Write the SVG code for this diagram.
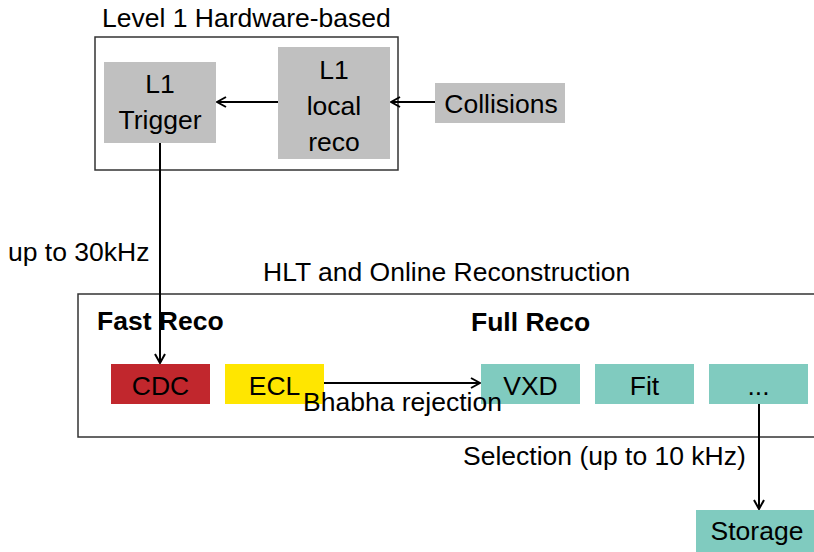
<svg xmlns="http://www.w3.org/2000/svg" width="814" height="552" viewBox="0 0 814 552">
<defs>
<style>
text{font-family:"Liberation Sans",Arial,sans-serif;font-size:26.5px;fill:#000}
.b{font-weight:bold}
.m{text-anchor:middle}
.frame{fill:none;stroke:#333;stroke-width:1.5}
.gray{fill:#c0c0c0}
.teal{fill:#80cbbf}
.edge{fill:none;stroke:#000;stroke-width:2}
</style>
<marker id="arr" viewBox="0 0 12 12" refX="11" refY="6" markerWidth="12" markerHeight="12" markerUnits="userSpaceOnUse" orient="auto">
<path d="M2,1 L11,6 L2,11" fill="none" stroke="#000" stroke-width="2"/>
</marker>
</defs>
<rect width="814" height="552" fill="#fff"/>
<g id="level1">
<rect class="frame" x="95" y="37" width="303" height="133"/>
<text x="102" y="27">Level 1 Hardware-based</text>
</g>
<g id="hlt">
<rect class="frame" x="78" y="294" width="740" height="143"/>
<text x="263" y="281">HLT and Online Reconstruction</text>
<text class="b" x="97" y="330">Fast Reco</text>
<text class="b" x="471" y="331">Full Reco</text>
</g>
<g id="l1trigger">
<rect class="gray" x="104" y="62" width="112" height="81"/>
<text class="m" x="160" y="93">L1</text>
<text class="m" x="160" y="129">Trigger</text>
</g>
<g id="l1local">
<rect class="gray" x="278" y="47" width="112" height="112"/>
<text class="m" x="334" y="79">L1</text>
<text class="m" x="334" y="115">local</text>
<text class="m" x="334" y="151">reco</text>
</g>
<g id="collisions">
<rect class="gray" x="435" y="83" width="130" height="40"/>
<text class="m" x="501" y="113">Collisions</text>
</g>
<g id="cdc">
<rect x="111" y="364" width="99" height="40" fill="#c1272d"/>
<text class="m" x="160.5" y="395">CDC</text>
</g>
<g id="ecl">
<rect x="225" y="364" width="99" height="40" fill="#ffe600"/>
<text class="m" x="274.5" y="395">ECL</text>
</g>
<g id="vxd">
<rect class="teal" x="481" y="364" width="99" height="40"/>
<text class="m" x="530.5" y="395">VXD</text>
</g>
<g id="fit">
<rect class="teal" x="595" y="364" width="99" height="40"/>
<text class="m" x="644.5" y="395">Fit</text>
</g>
<g id="more">
<rect class="teal" x="709" y="364" width="99" height="40"/>
<text class="m" x="758.5" y="395">...</text>
</g>
<g id="storage">
<rect class="teal" x="696" y="510" width="120" height="42"/>
<text class="m" x="757" y="540">Storage</text>
</g>
<g id="connectors">
<line class="edge" x1="278" y1="102" x2="217" y2="102" marker-end="url(#arr)"/>
<line class="edge" x1="435" y1="102" x2="391" y2="102" marker-end="url(#arr)"/>
<line class="edge" x1="160" y1="143" x2="160" y2="363" marker-end="url(#arr)"/>
<line class="edge" x1="324" y1="383" x2="480" y2="383" marker-end="url(#arr)"/>
<line class="edge" x1="759" y1="404" x2="759" y2="509" marker-end="url(#arr)"/>
<text x="8" y="261">up to 30kHz</text>
<text x="303" y="411">Bhabha rejection</text>
<text x="463" y="465">Selection (up to 10 kHz)</text>
</g>
</svg>
